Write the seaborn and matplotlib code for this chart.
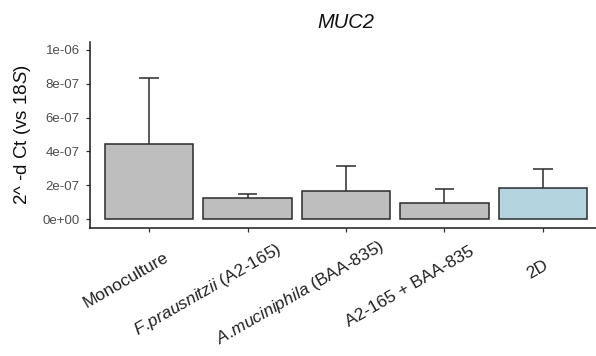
import numpy as np
import pandas as pd
import matplotlib
matplotlib.use("Agg")
import matplotlib.pyplot as plt
from matplotlib.transforms import offset_copy
from matplotlib.ticker import FixedLocator, FuncFormatter
import seaborn as sns

# --- Data ---
groups = ["Monoculture", "F.prausnitzii (A2-165)", "A.muciniphila (BAA-835)",
          "A2-165 + BAA-835", "2D"]
group_labels = ["Monoculture", r"$\mathit{F.\!prausnitzii}$ (A2-165)",
                r"$\mathit{A.\!muciniphila}$ (BAA-835)", "A2-165 + BAA-835", "2D"]
mean_expr = [4.45e-07, 1.23e-07, 1.67e-07, 0.92e-07, 1.85e-07]
err_upper = [3.92e-07, 0.24e-07, 1.45e-07, 0.83e-07, 1.12e-07]
bar_colors = ["#BEBEBE", "#BEBEBE", "#BEBEBE", "#BEBEBE", "#ADD8E6"]
y_ticks = [0, 2e-07, 4e-07, 6e-07, 8e-07, 1e-06]

# --- Style ---
sns.set_style("white")
plt.rcParams["font.family"] = ["Liberation Sans", "DejaVu Sans"]
plt.rcParams["mathtext.fontset"] = "custom"
plt.rcParams["mathtext.rm"] = "Liberation Sans"
plt.rcParams["mathtext.it"] = "Liberation Sans:italic"
plt.rcParams["mathtext.bf"] = "Liberation Sans:bold"

df = pd.DataFrame({"group": groups, "value": mean_expr})

fig = plt.figure(figsize=(5.96, 3.56), dpi=100)
ax = fig.add_axes([90 / 596, 128.5 / 356, 512 / 596, 186 / 356])

sns.barplot(data=df, x="group", y="value", hue="group", palette=bar_colors,
            legend=False, width=0.9, edgecolor="#2b2b2b", linewidth=1.1,
            errorbar=None, ax=ax, zorder=2)

# upper-only error bars
x = np.arange(len(groups))
tops = np.array(mean_expr) + np.array(err_upper)
ax.vlines(x, mean_expr, tops, color="#2b2b2b", linewidth=1.1, zorder=3)
ax.hlines(tops, x - 0.1, x + 0.1, color="#2b2b2b", linewidth=1.1, zorder=3)

ax.set_xlim(-0.6, 4.6)
ax.set_ylim(-0.05e-06, 1.05e-06)
ax.yaxis.set_major_locator(FixedLocator(y_ticks))
ax.yaxis.set_major_formatter(FuncFormatter(lambda v, p: f"{v:.0e}"))
ax.tick_params(axis="y", direction="out", length=3, width=0.9, color="#333333",
               labelsize=9.5, labelcolor="#4D4D4D", pad=4.5, left=True)
ax.tick_params(axis="x", direction="out", length=3, width=0.9, color="#333333",
               bottom=True, labelbottom=False)

for side in ["top", "right"]:
    ax.spines[side].set_visible(False)
for side in ["left", "bottom"]:
    ax.spines[side].set_color("#1a1a1a")
    ax.spines[side].set_linewidth(1.1)

ax.set_xlabel("")
ax.set_ylabel(r"2^ -d Ct (vs $\it{18S}$)", fontsize=13.5, color="#111111")
ax.yaxis.set_label_coords(-0.111, 0.5)
ax.set_title("MUC2", fontsize=14.5, fontstyle="italic", pad=10, color="#111111")

# rotated category labels, anchored ~78% along their length (ggplot-like)
fig.canvas.draw()
renderer = fig.canvas.get_renderer()
for i, lab in enumerate(group_labels):
    t = ax.text(i, 0, lab, fontsize=12.5, color="#222222", ha="center",
                va="center", rotation=0, rotation_mode="anchor",
                transform=ax.get_xaxis_transform(), clip_on=False)
    L = t.get_window_extent(renderer).width
    dx = -0.24 * L
    dy = -39 - 0.14 * L
    t.set_rotation(30)
    t.set_transform(offset_copy(ax.get_xaxis_transform(), fig=fig,
                                x=dx, y=dy, units="dots"))

fig.savefig("out.png", dpi=100)
